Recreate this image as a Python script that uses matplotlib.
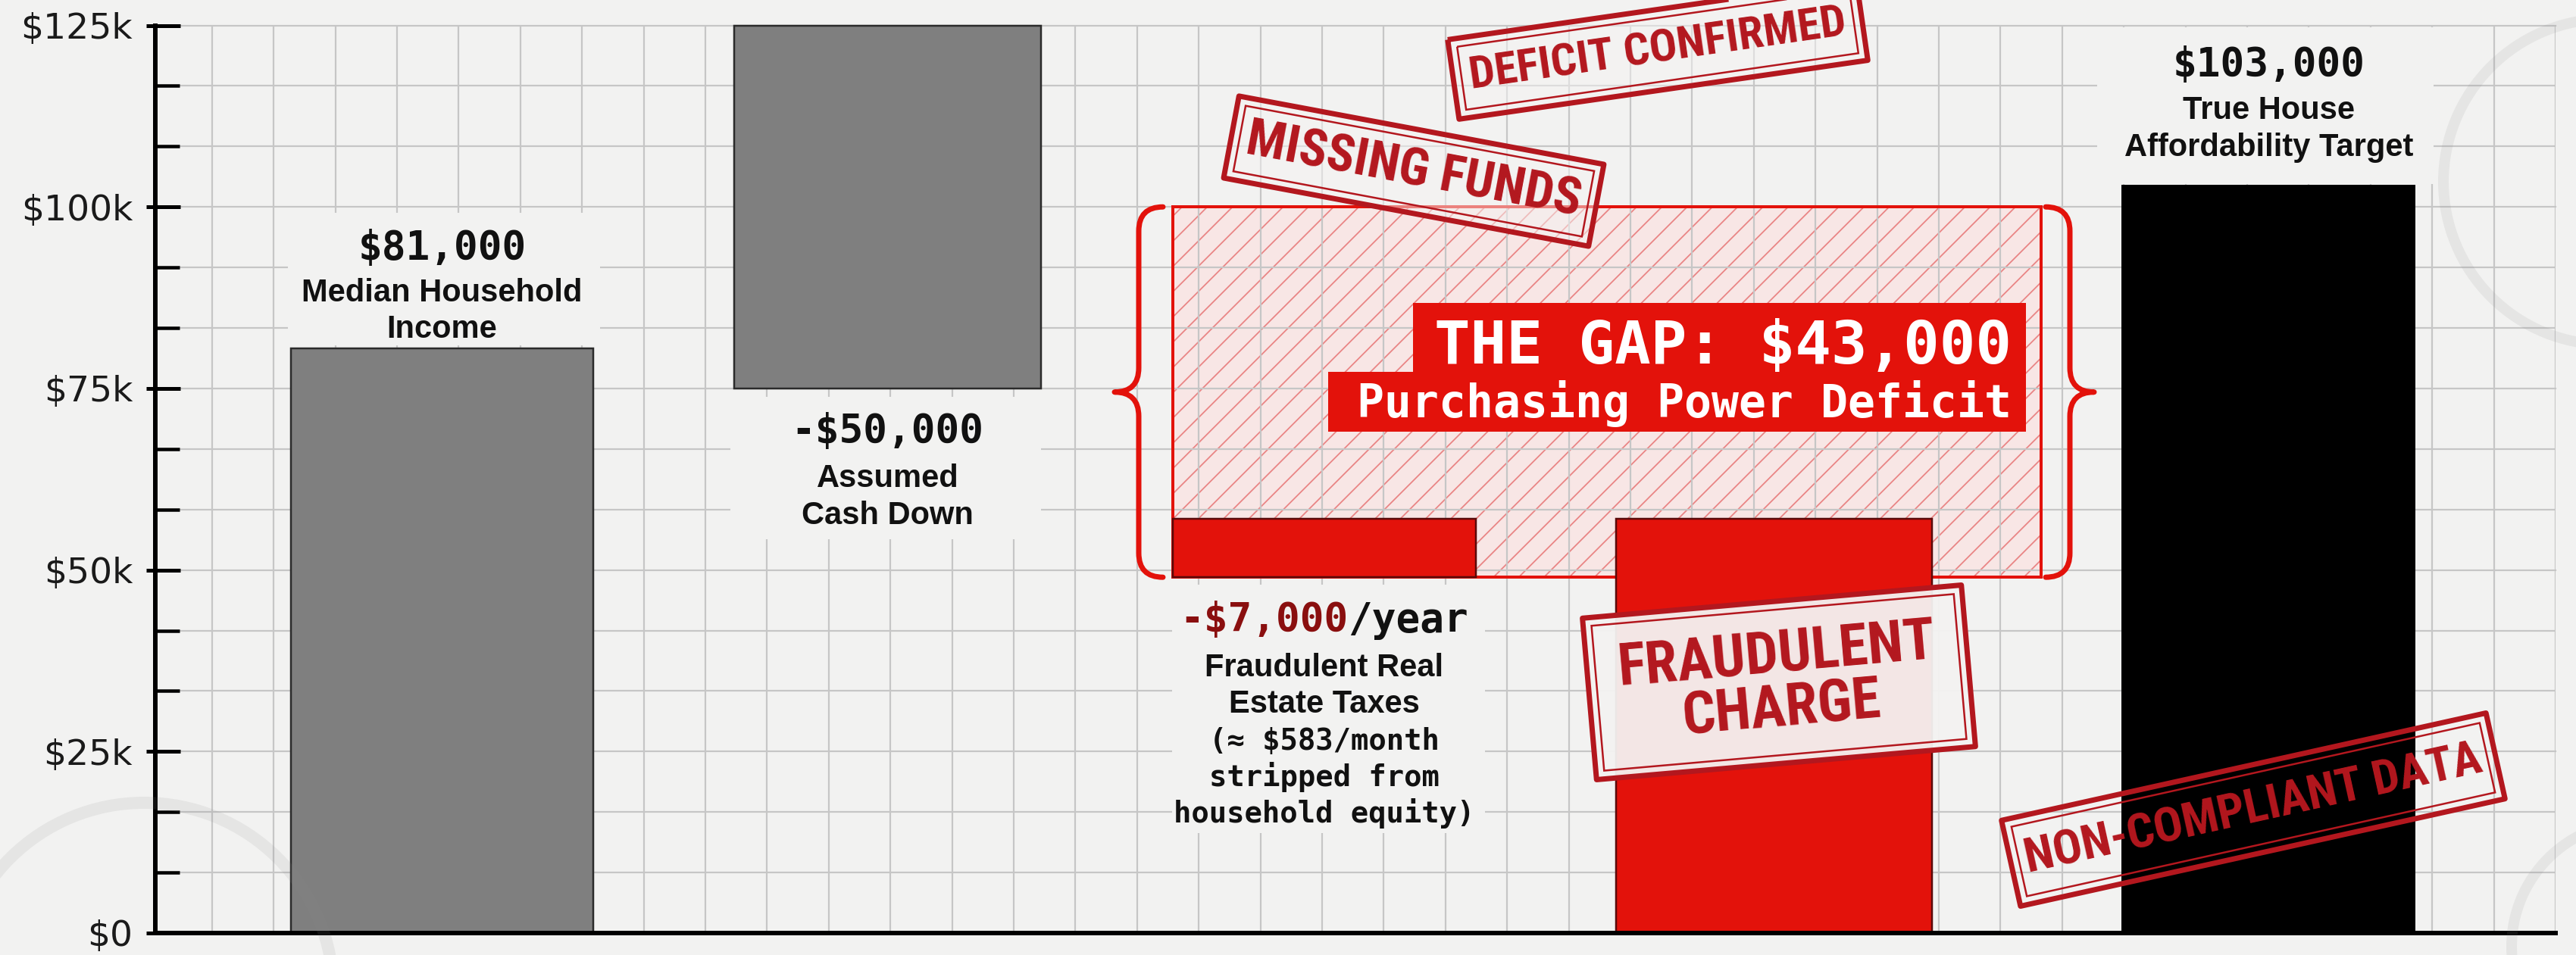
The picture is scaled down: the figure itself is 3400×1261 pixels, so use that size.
import numpy as np
import matplotlib
matplotlib.use("Agg")
import matplotlib.pyplot as plt
from matplotlib.patches import Rectangle, PathPatch, Circle
from matplotlib.path import Path
from matplotlib.transforms import Affine2D, blended_transform_factory
from matplotlib.ticker import MultipleLocator

# ---------------- data ----------------
categories = ["Median Household Income", "Assumed Cash Down",
              "Fraudulent Real Estate Taxes", "Remaining Power",
              "True House Affordability Target"]
bar_bottom = [0, 75000, 49000, 0, 0]
bar_top = [80500, 125000, 57000, 57000, 103000]
bar_colors = ["#7f7f7f", "#7f7f7f", "#e3120b", "#e3120b", "#000000"]
bar_edges = ["#2b2b2b", "#2b2b2b", "#5a0a0a", "#5a0a0a", "#000000"]
value_labels = ["$81,000", "-$50,000", "-$7,000", "", "$103,000"]
desc_labels = [["Median Household", "Income"],
               ["Assumed", "Cash Down"],
               ["Fraudulent Real", "Estate Taxes"],
               [],
               ["True House", "Affordability Target"]]
tax_note = ["(\u2248 $583/month", "stripped from", "household equity)"]
gap_range = [49000, 100000]
gap_title = "THE GAP: $43,000"
gap_sub = "Purchasing Power Deficit"
y_ticks = [0, 25000, 50000, 75000, 100000, 125000]
y_tick_labels = ["$0", "$25k", "$50k", "$75k", "$100k", "$125k"]
stamp_texts = ["DEFICIT CONFIRMED", "MISSING FUNDS", "FRAUDULENT\nCHARGE", "NON-COMPLIANT DATA"]

# ---------------- layout ----------------
W, H = 3400, 1261
AXL, AXR, AXB, AXT = 205, 3373, 1232, 33.5
PPU = 588.0
XMIN = -0.6437
XMAX = XMIN + (AXR - AXL) / PPU
YMAX = 125000
YPP = YMAX / (AXB - AXT)
bar_pos = [0, 1, 1.98, 2.99, 4.1]
bar_w = [0.68, 0.69, 0.68, 0.71, 0.66]

PAPER = "#f2f2f1"
RED = "#e3120b"
STAMP = "#b3171e"
PT = 72 / 100.0  # points per pixel


def px2x(px):
    return XMIN + (px - AXL) / PPU


def py2y(py):
    return (AXB - py) * YPP


fig = plt.figure(figsize=(W / 100, H / 100), dpi=100, facecolor=PAPER)
ax = fig.add_axes([AXL / W, (H - AXB) / H, (AXR - AXL) / W, (AXB - AXT) / H])
ax.set_facecolor(PAPER)
ax.set_xlim(XMIN, XMAX)
ax.set_ylim(0, YMAX)

# grid
xgrid_px = AXR - 81.4 * np.arange(0, 39)
ax.set_xticks([])
ax.set_xticks(px2x(xgrid_px), minor=True)
ax.yaxis.set_minor_locator(MultipleLocator(25000 / 3))
ax.set_yticks(y_ticks)
ax.set_yticklabels(y_tick_labels, fontsize=34, color="#1a1a1a", family="DejaVu Sans")
ax.set_axisbelow(True)
ax.grid(True, which="minor", axis="x", color="#c6c6c6", lw=1.6)
ax.grid(True, which="both", axis="y", color="#c6c6c6", lw=1.6)
for ln in ax.get_xgridlines() + ax.get_ygridlines():
    ln.set_clip_on(False)
ax.tick_params(axis="x", which="both", length=0)
ax.tick_params(axis="y", which="major", direction="in", length=33 * PT, width=5 * PT,
               color="black", pad=30 * PT)
ax.tick_params(axis="y", which="minor", direction="in", length=32 * PT, width=4.5 * PT,
               color="black")
for s in ["top", "right"]:
    ax.spines[s].set_visible(False)
ax.spines["left"].set_linewidth(6 * PT)
ax.spines["bottom"].set_linewidth(6 * PT)
ax.spines["left"].set_zorder(6)
ax.spines["bottom"].set_zorder(6)

# outer stubs of major ticks
bt = blended_transform_factory(ax.transAxes, ax.transData)
for v in y_ticks:
    ax.plot([-12 / (AXR - AXL), 0], [v, v], transform=bt, color="black",
            lw=5 * PT, clip_on=False, solid_capstyle="butt", zorder=6)

# gap hatched region
gx0 = bar_pos[2] - bar_w[2] / 2
gx1 = px2x(2694)
ax.add_patch(Rectangle((gx0, gap_range[0]), gx1 - gx0, gap_range[1] - gap_range[0],
                       facecolor="#fbe2e2", edgecolor="none", alpha=0.75, zorder=0.3))
plt.rcParams["hatch.linewidth"] = 1.3
ax.add_patch(Rectangle((gx0, gap_range[0]), gx1 - gx0, gap_range[1] - gap_range[0],
                       facecolor="none", edgecolor="#e98585", hatch="/", lw=0, zorder=0.35))
ax.add_patch(Rectangle((gx0, gap_range[0]), gx1 - gx0, gap_range[1] - gap_range[0],
                       facecolor="none", edgecolor=RED, lw=4 * PT, zorder=1.8))

# bars
heights = [t - b for t, b in zip(bar_top, bar_bottom)]
bars = ax.bar(bar_pos, heights, width=bar_w, bottom=bar_bottom, color=bar_colors,
              edgecolor=bar_edges, linewidth=2.5 * PT, zorder=2)
for b in bars:
    b.set_clip_on(False)
bars[4].set_linewidth(0)


# label backgrounds (hide grid behind labels)
def bg(px0, py0, px1, py1):
    ax.add_patch(Rectangle((px2x(px0), py2y(py1)), (px1 - px0) / PPU, (py1 - py0) * YPP,
                           facecolor=PAPER, edgecolor="none", zorder=1.5))


bg(380, 281, 792, 456)
bg(964, 524, 1374, 712)
bg(1547, 772, 1960, 1100)
bg(2768, 36, 3212, 243)

NUMF = dict(family="DejaVu Sans Mono", weight="bold", fontsize=38, color="#111111")
DESCF = dict(family="Liberation Sans", weight="bold", fontsize=30, color="#111111")


def txt(x, py, s, ha="center", **kw):
    ax.text(x, py2y(py), s, ha=ha, va="baseline", zorder=5, **kw)


# bar 1
txt(bar_pos[0], 343, value_labels[0], **NUMF)
for i, l in enumerate(desc_labels[0]):
    txt(bar_pos[0], 398 + 48 * i, l, **DESCF)
# bar 2
txt(bar_pos[1], 585, value_labels[1], **NUMF)
for i, l in enumerate(desc_labels[1]):
    txt(bar_pos[1], 643 + 49 * i, l, **DESCF)
# bar 3
cw = 0.602 * 38 / PT / PPU
txt(bar_pos[2] + cw, 834, value_labels[2], ha="right", **{**NUMF, "color": "#8a0f0f"})
txt(bar_pos[2] + cw, 834, "/year", ha="left", **NUMF)
for i, l in enumerate(desc_labels[2]):
    txt(bar_pos[2], 893 + 48 * i, l, **DESCF)
for i, l in enumerate(tax_note):
    txt(bar_pos[2], 990 + 48 * i, l, family="DejaVu Sans Mono", weight="bold",
        fontsize=28, color="#111111")
# bar 5
txt(bar_pos[4], 101, value_labels[4], **NUMF)
for i, l in enumerate(desc_labels[4]):
    txt(bar_pos[4], 157 + 49 * i, l, **DESCF)

# gap label boxes
ax.add_patch(Rectangle((px2x(1865), py2y(492)), (2674 - 1865) / PPU, (492 - 400) * YPP,
                       facecolor=RED, edgecolor="none", zorder=4))
ax.add_patch(Rectangle((px2x(1753), py2y(570)), (2674 - 1753) / PPU, (570 - 491) * YPP,
                       facecolor=RED, edgecolor="none", zorder=4))
ax.text(px2x(2655), py2y(480), gap_title, ha="right", va="baseline", family="DejaVu Sans Mono",
        weight="bold", fontsize=57, color="white", zorder=5)
ax.text(px2x(2655), py2y(551), gap_sub, ha="right", va="baseline", family="DejaVu Sans Mono",
        weight="bold", fontsize=43, color="white", zorder=5)


# braces
def brace(x_end, x_tip, y_top, y_bot, r=32):
    xm = x_end + (x_tip - x_end) * 0.5
    ym = (y_top + y_bot) / 2
    v = [(x_end, y_top), (xm, y_top), (xm, y_top + r), (xm, ym - r), (xm, ym), (x_tip, ym),
         (xm, ym), (xm, ym + r), (xm, y_bot - r), (xm, y_bot), (x_end, y_bot)]
    c = [Path.MOVETO, Path.CURVE3, Path.CURVE3, Path.LINETO, Path.CURVE3, Path.CURVE3,
         Path.CURVE3, Path.CURVE3, Path.LINETO, Path.CURVE3, Path.CURVE3]
    v = [(px2x(a), py2y(b)) for a, b in v]
    ax.add_patch(PathPatch(Path(v, c), facecolor="none", edgecolor=RED, lw=7 * PT,
                           capstyle="round", joinstyle="round", zorder=3, clip_on=False))


gy_top = AXB - gap_range[1] / YPP
gy_bot = AXB - gap_range[0] / YPP
brace(1535, 1471, gy_top, gy_bot)
brace(2700, 2764, gy_top, gy_bot)

# ---------------- stamps (figure pixel space) ----------------
pxT = Affine2D().scale(1 / W, -1 / H).translate(0, 1) + fig.transFigure
STAMPF = ["Liberation Sans Narrow", "Roboto Condensed", "Open Sans Condensed", "DejaVu Sans"]
renderer = fig.canvas.get_renderer()


def stamp(cx, cy, w, h, ang, s, target_w, target_cap, fill_alpha, fill="#f4f3f2"):
    rot = Affine2D().rotate_deg_around(cx, cy, -ang) + pxT
    if fill_alpha > 0:
        fig.add_artist(Rectangle((cx - w / 2, cy - h / 2), w, h, transform=rot,
                                 facecolor=fill, edgecolor="none", alpha=fill_alpha, zorder=10))
    fig.add_artist(Rectangle((cx - w / 2, cy - h / 2), w, h, transform=rot, fill=False,
                             edgecolor=STAMP, lw=7 * PT, zorder=11, joinstyle="round"))
    ins = 11
    fig.add_artist(Rectangle((cx - w / 2 + ins, cy - h / 2 + ins), w - 2 * ins, h - 2 * ins,
                             transform=rot, fill=False, edgecolor=STAMP, lw=2.5 * PT, zorder=11))
    t = fig.text(cx / W, 1 - cy / H, s, rotation=0, rotation_mode="anchor", ha="center",
                 va="center", multialignment="center", family=STAMPF, weight="bold",
                 fontstretch="condensed", fontsize=40, color=STAMP, linespacing=0.95,
                 zorder=12)
    bb = t.get_window_extent(renderer)
    fs_w = 40 * target_w / bb.width
    fs_h = target_cap / 0.73 * PT
    t.set_fontsize(min(fs_w, fs_h))
    t.set_rotation(ang)


stamp(2188, 66, 545, 106, 8.2, stamp_texts[0], 500, 54, 0.5)
stamp(1866, 226, 490, 110, -10.6, stamp_texts[1], 448, 58, 0.5)
stamp(2348, 901, 502, 214, 5.0, stamp_texts[2], 420, 70, 0.95)
stamp(2974, 1069, 655, 116, 12.5, stamp_texts[3], 615, 58, 0.0)

# coffee rings
for (cx, cy, r, lw) in [(3440, 240, 215, 14), (190, 1310, 250, 16), (3480, 1250, 165, 14)]:
    fig.add_artist(Circle((cx, cy), r, transform=pxT, fill=False, edgecolor="#8a8a8a",
                          alpha=0.12, lw=lw * PT, zorder=13))

fig.savefig("out.png", dpi=100, facecolor=PAPER)
